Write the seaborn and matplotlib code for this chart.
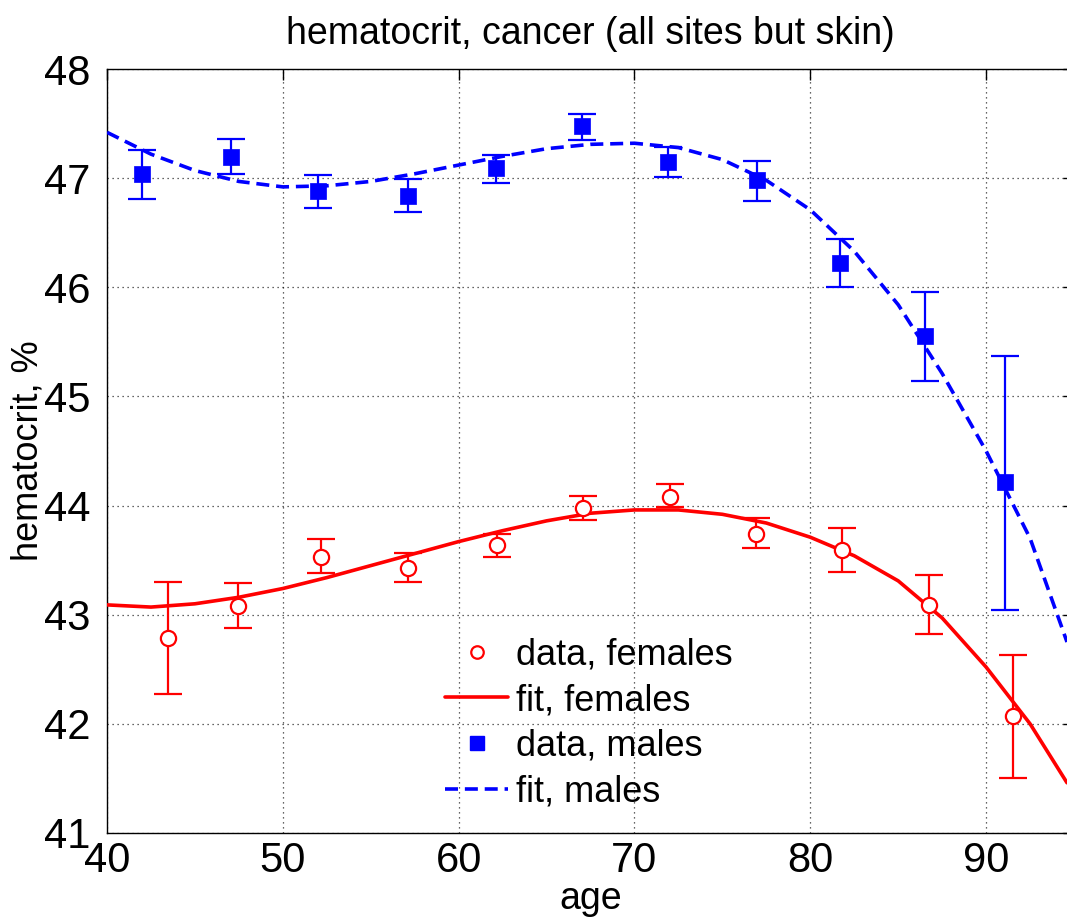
import numpy as np
import pandas as pd
import matplotlib
matplotlib.use("Agg")
import matplotlib.pyplot as plt
import seaborn as sns
from matplotlib.lines import Line2D

# ---------------- data ----------------
female_age = [43.45, 47.46, 52.16, 57.1, 62.2, 67.05, 72.0, 76.9, 81.8, 86.75, 91.5]
female_val = [42.79, 43.08, 43.53, 43.43, 43.64, 43.98, 44.08, 43.74, 43.59, 43.09, 42.07]
female_lo = [42.27, 42.88, 43.38, 43.30, 43.53, 43.87, 43.99, 43.61, 43.39, 42.82, 41.50]
female_hi = [43.30, 43.29, 43.69, 43.57, 43.74, 44.09, 44.20, 43.89, 43.79, 43.36, 42.63]

male_age = [42.0, 47.06, 52.0, 57.1, 62.1, 67.0, 71.9, 76.96, 81.7, 86.5, 91.1]
male_val = [47.04, 47.19, 46.88, 46.84, 47.09, 47.48, 47.15, 46.98, 46.22, 45.55, 44.22]
male_lo = [46.81, 47.04, 46.73, 46.69, 46.96, 47.35, 47.01, 46.79, 46.00, 45.14, 43.04]
male_hi = [47.26, 47.36, 47.03, 46.99, 47.21, 47.59, 47.29, 47.16, 46.44, 45.96, 45.37]

fit_age = [40, 42.5, 45, 47.5, 50, 52.5, 55, 57.5, 60, 62.5, 65, 67.5, 70,
           72.5, 75, 77.5, 80, 82.5, 85, 87.5, 90, 92.5, 94.6]
female_fit = [43.09, 43.07, 43.10, 43.16, 43.24, 43.34, 43.45, 43.56, 43.67, 43.77,
              43.86, 43.93, 43.96, 43.96, 43.92, 43.84, 43.71, 43.54, 43.31, 42.97,
              42.52, 42.00, 41.46]
male_fit = [47.42, 47.22, 47.07, 46.97, 46.92, 46.93, 46.97, 47.04, 47.12, 47.20,
            47.27, 47.31, 47.32, 47.28, 47.17, 46.98, 46.71, 46.33, 45.84, 45.21,
            44.50, 43.70, 42.75]

x_ticks = [40, 50, 60, 70, 80, 90]
y_ticks = [41, 42, 43, 44, 45, 46, 47, 48]

title = "hematocrit, cancer (all sites but skin)"
xlabel = "age"
ylabel = "hematocrit, %"

# ---------------- styling ----------------
sns.set_theme(style="white")
plt.rcParams['font.family'] = ['Liberation Sans', 'DejaVu Sans']
plt.rcParams['text.color'] = 'black'
plt.rcParams['axes.labelcolor'] = 'black'
plt.rcParams['xtick.color'] = 'black'
plt.rcParams['ytick.color'] = 'black'

RED = (1.0, 0.0, 0.0)
BLUE = (0.0, 0.0, 1.0)
DASH = (0, (3.6, 1.9))

fig = plt.figure(figsize=(10.67, 9.24), dpi=100)
ax = fig.add_axes([0.1003, 0.0985, 0.9063, 0.8268])

fits = pd.DataFrame({"age": fit_age, "female": female_fit, "male": male_fit})

# fits
sns.lineplot(data=fits, x="age", y="female", ax=ax, color=RED, lw=2.6,
             estimator=None, sort=False, zorder=3)
sns.lineplot(data=fits, x="age", y="male", ax=ax, color=BLUE, lw=2.6,
             estimator=None, sort=False, zorder=3)
ax.lines[-1].set_linestyle(DASH)

# error bars
fv = np.array(female_val)
mv = np.array(male_val)
ax.errorbar(female_age, fv, yerr=[fv - np.array(female_lo), np.array(female_hi) - fv],
            fmt="none", ecolor=RED, elinewidth=1.6, capsize=10, capthick=1.6, zorder=4)
ax.errorbar(male_age, mv, yerr=[mv - np.array(male_lo), np.array(male_hi) - mv],
            fmt="none", ecolor=BLUE, elinewidth=1.6, capsize=10, capthick=1.6, zorder=4)

# markers
sns.scatterplot(x=female_age, y=female_val, ax=ax, marker="o", s=120,
                facecolor="white", edgecolor=RED, linewidth=1.6, zorder=5)
sns.scatterplot(x=male_age, y=male_val, ax=ax, marker="s", s=140,
                color=BLUE, edgecolor=BLUE, linewidth=0.5, zorder=5)

ax.set_xlim(40, 95)
ax.set_ylim(41, 48)
ax.set_xticks(x_ticks)
ax.set_yticks(y_ticks)
ax.set_xticklabels([str(t) for t in x_ticks])
ax.set_yticklabels([str(t) for t in y_ticks])

ax.grid(True, linestyle=(0, (1, 3)), color="black", linewidth=0.9, alpha=0.8)
ax.tick_params(axis="both", direction="in", length=8, width=1.0, colors="black",
               labelsize=30, top=True, right=True)
ax.tick_params(axis="x", pad=6)
ax.tick_params(axis="y", pad=12)
for side in ["left", "bottom", "top", "right"]:
    ax.spines[side].set_color("black")
    ax.spines[side].set_linewidth(1.0)

ax.set_title(title, fontsize=27, pad=18, color="black")
ax.set_xlabel(xlabel, fontsize=27, labelpad=0)
ax.set_ylabel(ylabel, fontsize=26, labelpad=-1)

handles = [
    Line2D([], [], linestyle="none", marker="o", markersize=9, markerfacecolor="white",
           markeredgecolor=RED, markeredgewidth=1.6),
    Line2D([], [], color=RED, lw=2.6),
    Line2D([], [], linestyle="none", marker="s", markersize=10, color=BLUE),
    Line2D([], [], color=BLUE, lw=2.6, linestyle=DASH),
]
labels = ["data, females", "fit, females", "data, males", "fit, males"]
leg = ax.legend(handles, labels, loc="lower left", bbox_to_anchor=(0.327, 0.002),
                frameon=False, fontsize=26, handlelength=1.75, handletextpad=0.22,
                labelspacing=0.3, borderaxespad=0.2)

fig.savefig("out.png", dpi=100)
